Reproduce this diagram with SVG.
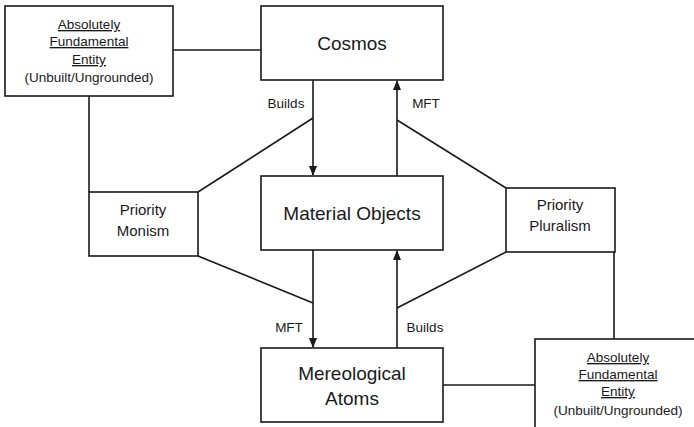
<svg xmlns="http://www.w3.org/2000/svg" width="694" height="427" viewBox="0 0 694 427">
<style>
.box{fill:#fff;stroke:#1a1a1a;stroke-width:1.6}
.ln{fill:none;stroke:#1a1a1a;stroke-width:1.6}
text{font-family:"Liberation Sans",Arial,sans-serif;fill:#1a1a1a;text-anchor:middle}
.big{font-size:19px}
.mid{font-size:15px}
.sm{font-size:13.5px}
.lbl{font-size:13.5px}
.u{text-decoration:underline}
</style>
<defs>
<marker id="ah" markerWidth="10" markerHeight="10" refX="9" refY="5" orient="auto" markerUnits="userSpaceOnUse">
<path d="M0,1 L10,5 L0,9 Z" fill="#1a1a1a"/>
</marker>
</defs>
<rect width="694" height="427" fill="#fff"/>
<g id="connectors">
<line class="ln" x1="173" y1="50" x2="261" y2="50"/>
<line class="ln" x1="89" y1="96" x2="89" y2="192"/>
<line class="ln" x1="198" y1="192" x2="313" y2="118"/>
<line class="ln" x1="198" y1="256" x2="313" y2="303"/>
<line class="ln" x1="397" y1="120" x2="506" y2="188"/>
<line class="ln" x1="506" y1="252" x2="397" y2="308"/>
<line class="ln" x1="614" y1="252" x2="614" y2="339"/>
<line class="ln" x1="443" y1="385" x2="535" y2="385"/>
<line class="ln" x1="313" y1="80" x2="313" y2="175" marker-end="url(#ah)"/>
<line class="ln" x1="397" y1="176" x2="397" y2="81" marker-end="url(#ah)"/>
<line class="ln" x1="313" y1="250" x2="313" y2="347" marker-end="url(#ah)"/>
<line class="ln" x1="397" y1="348" x2="397" y2="251" marker-end="url(#ah)"/>
<text class="lbl" x="286" y="108">Builds</text>
<text class="lbl" x="426" y="108">MFT</text>
<text class="lbl" x="289" y="332">MFT</text>
<text class="lbl" x="425" y="332">Builds</text>
</g>
<g id="afe-top">
<rect class="box" x="5" y="6" width="168" height="90"/>
<text class="sm u" x="89" y="29">Absolutely</text>
<text class="sm u" x="89" y="46">Fundamental</text>
<text class="sm u" x="89" y="64">Entity</text>
<text class="sm" x="89" y="82">(Unbuilt/Ungrounded)</text>
</g>
<g id="cosmos">
<rect class="box" x="261" y="6" width="182" height="74"/>
<text class="big" x="352" y="50">Cosmos</text>
</g>
<g id="material-objects">
<rect class="box" x="261" y="176" width="182" height="74"/>
<text class="big" x="352" y="220">Material Objects</text>
</g>
<g id="priority-monism">
<rect class="box" x="89" y="192" width="109" height="64"/>
<text class="mid" x="143" y="215">Priority</text>
<text class="mid" x="143" y="236">Monism</text>
</g>
<g id="priority-pluralism">
<rect class="box" x="506" y="188" width="109" height="64"/>
<text class="mid" x="560" y="210">Priority</text>
<text class="mid" x="560" y="231">Pluralism</text>
</g>
<g id="mereological-atoms">
<rect class="box" x="261" y="348" width="182" height="74"/>
<text class="big" x="352" y="380">Mereological</text>
<text class="big" x="352" y="405">Atoms</text>
</g>
<g id="afe-bottom">
<rect class="box" x="535" y="339" width="170" height="100"/>
<text class="sm u" x="618" y="362">Absolutely</text>
<text class="sm u" x="618" y="379">Fundamental</text>
<text class="sm u" x="618" y="396">Entity</text>
<text class="sm" x="618" y="415">(Unbuilt/Ungrounded)</text>
</g>
</svg>
